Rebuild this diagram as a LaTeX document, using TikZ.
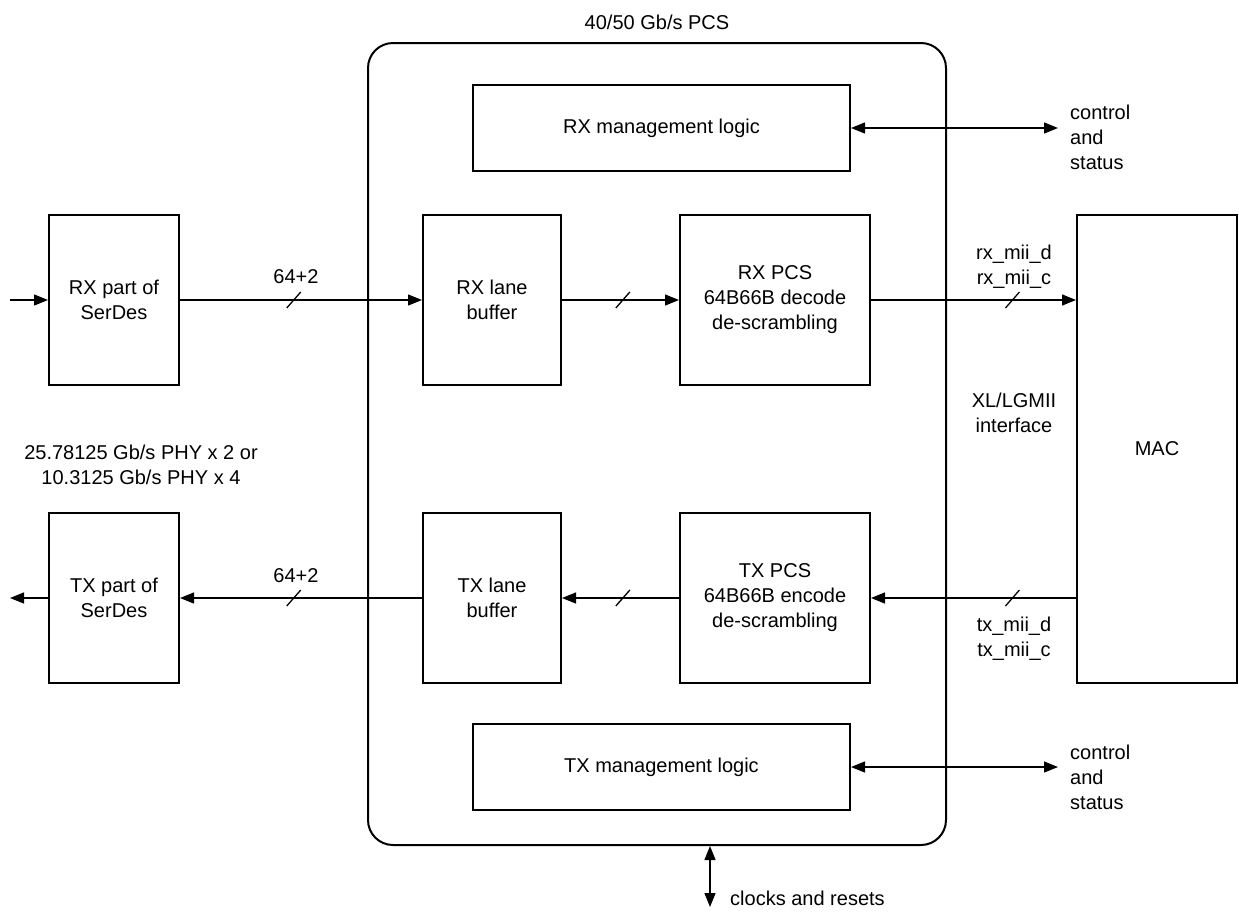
\documentclass[tikz,border=0pt]{standalone}
\usepackage{fontspec}
\setmainfont{Liberation Sans}
\usetikzlibrary{arrows.meta,calc}
\begin{document}
\begin{tikzpicture}[x=1pt,y=-1pt,
  every node/.style={font=\fontsize{20}{25}\selectfont},
  blk/.style={draw, line width=2pt, inner sep=0pt, align=center},
  conn/.style={line width=1.3pt},
  arr/.style={conn, -{Triangle[length=14pt,width=11pt]}},
  darr/.style={conn, {Triangle[length=14pt,width=11pt]}-{Triangle[length=14pt,width=11pt]}},
  txt/.style={inner sep=0pt, align=center},
  slashmk/.style={line width=1.3pt}]
\useasboundingbox (0,0) rectangle (1239,911);

% outer PCS block
\node[draw, line width=2pt, rounded corners=25pt, minimum width=578pt, minimum height=802pt] (pcs) at (657,444) {};
\node[txt] (title) at (657,22) {40/50 Gb/s PCS};

% blocks
\node[blk, minimum width=377pt, minimum height=86pt] (rxm) at (661.5,128) {RX management logic};
\node[blk, minimum width=377pt, minimum height=86pt] (txm) at (661.5,767) {TX management logic};
\node[blk, minimum width=130pt, minimum height=170pt] (rxs) at (114,300) {RX part of\\SerDes};
\node[blk, minimum width=138pt, minimum height=170pt] (rxb) at (492,300) {RX lane\\buffer};
\node[blk, minimum width=190pt, minimum height=170pt] (rxp) at (775,300) {RX PCS\\64B66B decode\\de-scrambling};
\node[blk, minimum width=130pt, minimum height=170pt] (txs) at (114,598) {TX part of\\SerDes};
\node[blk, minimum width=138pt, minimum height=170pt] (txb) at (492,598) {TX lane\\buffer};
\node[blk, minimum width=190pt, minimum height=170pt] (txp) at (775,598) {TX PCS\\64B66B encode\\de-scrambling};
\node[blk, minimum width=160pt, minimum height=468pt] (mac) at (1157,449) {MAC};

% free ends
\coordinate (rxin) at (10,300);
\coordinate (txout) at (10,598);
\coordinate (c1) at (1058,128);
\coordinate (c2) at (1058,767);
\coordinate (clk) at (710,907);

% RX path
\draw[arr] (rxin) -- (rxs.west);
\draw[arr] (rxs.east) -- coordinate[pos=0.47] (s1) (rxb.west);
\draw[arr] (rxb.east) -- coordinate[pos=0.52] (s2) (rxp.west);
\draw[arr] (rxp.east) -- coordinate[pos=0.69] (s3) (rxs.east -| mac.west);
% TX path
\draw[arr] (txs.west) -- (txout);
\draw[arr] (txb.west) -- coordinate[pos=0.53] (s4) (txs.east);
\draw[arr] (txp.west) -- coordinate[pos=0.48] (s5) (txb.east);
\draw[arr] (txp.east -| mac.west) -- coordinate[pos=0.31] (s6) (txp.east);

% slash marks
\foreach \s in {s1,s2,s3,s4,s5,s6}
  \draw[slashmk] ([shift={(-7,8)}]\s) -- ([shift={(7,-8)}]\s);

% control / status
\draw[darr] (rxm.east) -- (c1);
\draw[darr] (txm.east) -- (c2);
\draw[darr] (pcs.south -| clk) -- (clk);

% labels
\node[txt] (l1) at (296,277) {64+2};
\node[txt] (l2) at (296,576) {64+2};
\node[txt] (rxmii) at (1014,267) {rx\_mii\_d\\rx\_mii\_c};
\node[txt] (txmii) at (1014,639) {tx\_mii\_d\\tx\_mii\_c};
\node[txt] (xl) at (1014,413) {XL/LGMII\\interface};
\node[txt] (phy) at (141,465) {25.78125 Gb/s PHY x 2 or\\10.3125 Gb/s PHY x 4};
\node[txt, align=left, anchor=west] (cs1) at (1070,137) {control\\and\\status};
\node[txt, align=left, anchor=west] (cs2) at (1070,777) {control\\and\\status};
\node[txt, anchor=west] (clktxt) at (730,898) {clocks and resets};
\end{tikzpicture}
\end{document}
